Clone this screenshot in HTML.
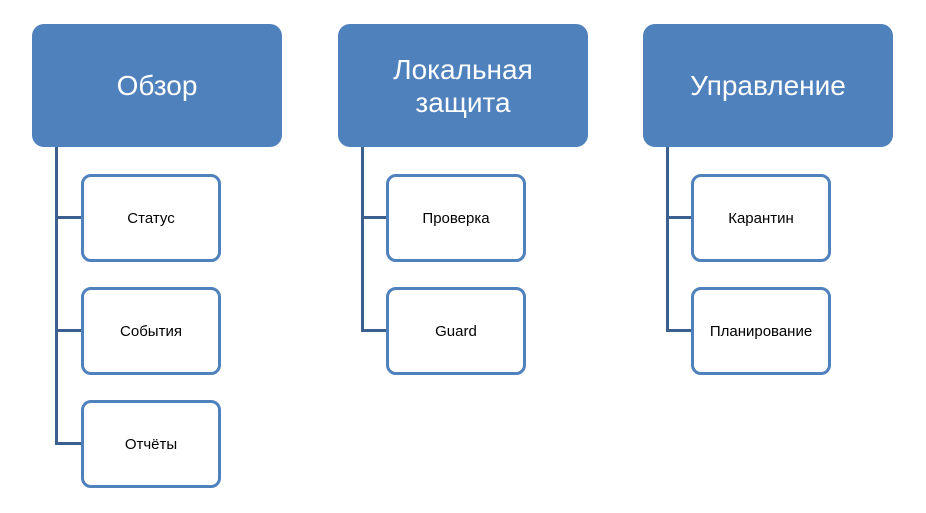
<!DOCTYPE html>
<html><head><meta charset="utf-8"><style>
body{margin:0;width:926px;height:513px;background:#fff;position:relative;overflow:hidden;font-family:"Liberation Sans","DejaVu Sans",sans-serif}
.h{position:absolute;width:250px;height:123px;top:24px;background:#4f81bd;border-radius:12px;color:#fff;font-size:28px;line-height:33px;display:flex;align-items:center;justify-content:center;text-align:center}
.c{position:absolute;width:134px;height:82px;border:3px solid #4f81bd;border-radius:10px;background:#fff;display:flex;align-items:center;justify-content:center;font-size:15px;color:#000}
.v{position:absolute;width:3px;background:#3b5f8f;top:147px}
.l{position:absolute;height:3px;background:#3b5f8f}
</style></head><body>
<div class="v" style="left:55px;height:298px"></div>
<div class="l" style="left:55px;top:216px;width:26px"></div>
<div class="l" style="left:55px;top:329px;width:26px"></div>
<div class="l" style="left:55px;top:442px;width:26px"></div>
<div class="v" style="left:361px;height:185px"></div>
<div class="l" style="left:361px;top:216px;width:26px"></div>
<div class="l" style="left:361px;top:329px;width:26px"></div>
<div class="v" style="left:666px;height:185px"></div>
<div class="l" style="left:666px;top:216px;width:26px"></div>
<div class="l" style="left:666px;top:329px;width:26px"></div>

<div class="h" style="left:32px">Обзор</div>
<div class="h" style="left:338px">Локальная<br>защита</div>
<div class="h" style="left:643px">Управление</div>

<div class="c" style="left:81px;top:174px">Статус</div>
<div class="c" style="left:81px;top:287px">События</div>
<div class="c" style="left:81px;top:400px">Отчёты</div>
<div class="c" style="left:386px;top:174px">Проверка</div>
<div class="c" style="left:386px;top:287px">Guard</div>
<div class="c" style="left:691px;top:174px">Карантин</div>
<div class="c" style="left:691px;top:287px">Планирование</div>
</body></html>
